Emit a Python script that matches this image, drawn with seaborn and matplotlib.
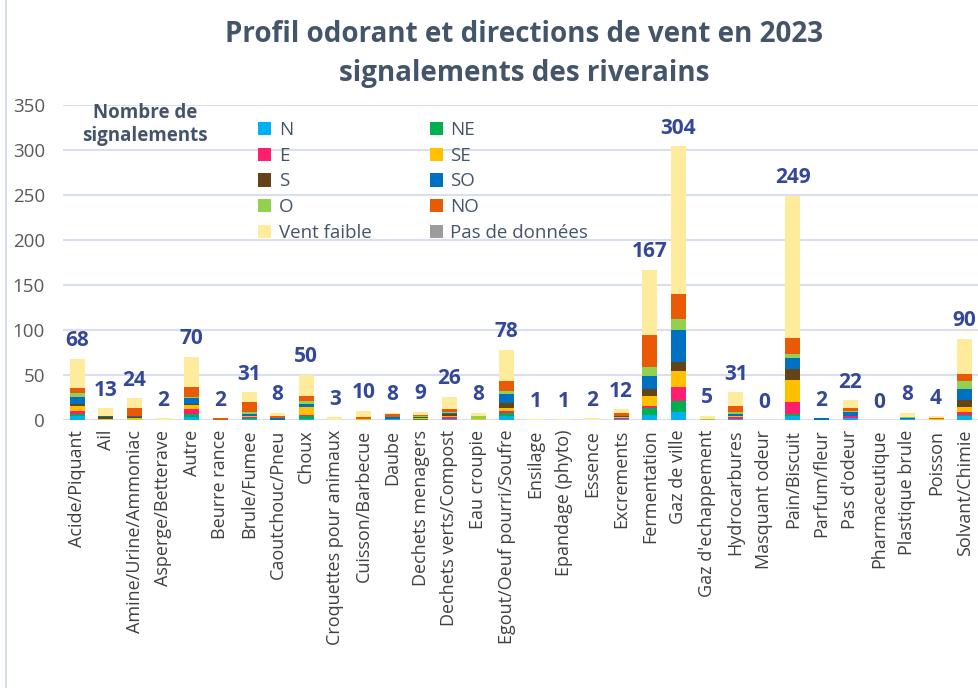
import pandas as pd
import matplotlib
matplotlib.use("Agg")
import matplotlib.pyplot as plt
from matplotlib.patches import Patch
from matplotlib.lines import Line2D
import seaborn as sns

# odour categories (x axis)
categories = [
    "Acide/Piquant", "Ail", "Amine/Urine/Ammoniac", "Asperge/Betterave", "Autre",
    "Beurre rance", "Brule/Fumee", "Caoutchouc/Pneu", "Choux", "Croquettes pour animaux",
    "Cuisson/Barbecue", "Daube", "Dechets menagers", "Dechets verts/Compost", "Eau croupie",
    "Egout/Oeuf pourri/Soufre", "Ensilage", "Epandage (phyto)", "Essence", "Excrements",
    "Fermentation", "Gaz de ville", "Gaz d'echappement", "Hydrocarbures", "Masquant odeur",
    "Pain/Biscuit", "Parfum/fleur", "Pas d'odeur", "Pharmaceutique", "Plastique brule",
    "Poisson", "Solvant/Chimie",
]

# number of reports per wind direction
n_vals  = [5, 0, 0, 0, 3, 0, 1, 0, 1, 0, 0, 1, 0, 1, 0, 5, 0, 0, 0, 1, 6, 9, 0, 1, 0, 4, 0, 2, 0, 1, 0, 4]
ne_vals = [2, 0, 0, 0, 4, 0, 1, 0, 3, 0, 0, 0, 1, 0, 0, 3, 0, 0, 0, 0, 7, 12, 0, 0, 0, 3, 0, 0, 0, 0, 0, 2]
e_vals  = [3, 0, 0, 0, 5, 0, 1, 0, 2, 0, 0, 0, 0, 2, 0, 2, 0, 0, 0, 1, 3, 16, 0, 2, 0, 13, 0, 2, 0, 0, 0, 3]
se_vals = [6, 1, 2, 0, 5, 0, 2, 0, 8, 0, 1, 0, 1, 2, 1, 3, 0, 0, 0, 1, 11, 18, 0, 2, 0, 24, 0, 1, 0, 0, 1, 6]
s_vals  = [2, 2, 1, 0, 1, 0, 0, 0, 1, 0, 0, 0, 1, 2, 0, 6, 0, 0, 0, 1, 8, 10, 0, 0, 0, 13, 0, 0, 0, 0, 0, 7]
so_vals = [8, 2, 2, 0, 6, 0, 2, 2, 3, 0, 0, 2, 0, 1, 0, 10, 0, 0, 0, 1, 14, 35, 0, 2, 0, 12, 2, 4, 0, 1, 0, 13]
o_vals  = [4, 0, 0, 0, 2, 0, 2, 0, 3, 0, 0, 0, 2, 1, 3, 3, 0, 0, 0, 0, 10, 12, 1, 2, 0, 4, 0, 1, 0, 1, 0, 8]
no_vals = [6, 0, 8, 0, 11, 2, 11, 3, 6, 0, 2, 4, 1, 3, 0, 11, 0, 0, 0, 3, 35, 28, 0, 7, 0, 18, 0, 3, 0, 0, 1, 8]
vf_vals = [32, 8, 11, 2, 33, 0, 11, 3, 23, 3, 7, 1, 3, 14, 4, 35, 1, 1, 2, 4, 73, 164, 4, 15, 0, 158, 0, 9, 0, 5, 2, 39]
nd_vals = [0] * 32

directions = ["N", "NE", "E", "SE", "S", "SO", "O", "NO", "Vent faible", "Pas de données"]
colors = ["#00B0F0", "#00B050", "#FF1F6E", "#FFC000", "#654318",
          "#0070C0", "#92D050", "#E85A06", "#FFEB9C", "#9C9C9C"]
series = [n_vals, ne_vals, e_vals, se_vals, s_vals, so_vals, o_vals, no_vals, vf_vals, nd_vals]

rows = []
for d, vals in zip(directions, series):
    for cat, v in zip(categories, vals):
        rows.append((cat, d, v))
df = pd.DataFrame(rows, columns=["odeur", "direction", "nb"])
df["odeur"] = pd.Categorical(df["odeur"], categories=categories, ordered=True)
totals = df.groupby("odeur", observed=False)["nb"].sum()

sns.set_theme(style="white")
plt.rcParams["font.family"] = ["Open Sans", "DejaVu Sans"]

W, H = 979, 688
fig = plt.figure(figsize=(W / 100, H / 100), dpi=100)
ax = fig.add_axes([63 / W, 1 - 420 / H, 1 - 63 / W, (420 - 105) / H])

# seaborn stacks the last hue level at the bottom -> reverse order
sns.histplot(data=df, x="odeur", weights="nb", hue="direction",
             hue_order=directions[::-1], palette=dict(zip(directions, colors)),
             multiple="stack", discrete=True, shrink=0.52, linewidth=0,
             alpha=1, legend=False, ax=ax, zorder=3)

ax.set_xlim(-0.5, 31.5)
ax.set_ylim(0, 350)
ax.set_yticks(range(0, 351, 50))
ax.set_xticks(range(len(categories)))
ax.set_xticklabels(categories, rotation=90, fontsize=13, color="#404040")
ax.tick_params(axis="y", labelsize=13.5, labelcolor="#595959", length=0, pad=13)
ax.tick_params(axis="x", length=0, pad=7)
ax.grid(axis="y", color="#D9DFF0", linewidth=1.5, zorder=0)
ax.set_axisbelow(True)
for sp in ax.spines.values():
    sp.set_visible(False)
ax.set_xlabel("")
ax.set_ylabel("")

# totals above bars
for i, t in enumerate(totals.values):
    ax.text(i, t + 20, str(int(t)), ha="center", va="center",
            fontsize=15, fontweight="bold", color="#34489A")

fig.text(524 / W, 1 - 35 / H, "Profil odorant et directions de vent en 2023",
         ha="center", va="center", fontsize=20, fontweight="bold", color="#44546A")
fig.text(524 / W, 1 - 73 / H, "signalements des riverains",
         ha="center", va="center", fontsize=20, fontweight="bold", color="#44546A")

fig.text(145 / W, 1 - 124 / H, "Nombre de\nsignalements", ha="center", va="center",
         fontsize=13.5, fontweight="bold", color="#44546A", linespacing=1.2)

# legend, two columns filled row by row
order = [0, 2, 4, 6, 8, 1, 3, 5, 7, 9]
handles = [Patch(facecolor=colors[k], edgecolor="none") for k in order]
labels = [directions[k] for k in order]
fig.legend(handles, labels, ncol=2, loc="upper left",
           bbox_to_anchor=(245 / W, 1 - 108 / H), frameon=False,
           fontsize=13.5, labelcolor="#44546A", handlelength=0.7, handleheight=0.7,
           handletextpad=0.4, labelspacing=0.41, columnspacing=3.1, borderpad=0.2)

# thin frame on the left side
fig.add_artist(Line2D([6 / W, 6 / W], [0, 1], color="#D6DCF0", linewidth=1.5))

fig.savefig("out.png", dpi=100)
